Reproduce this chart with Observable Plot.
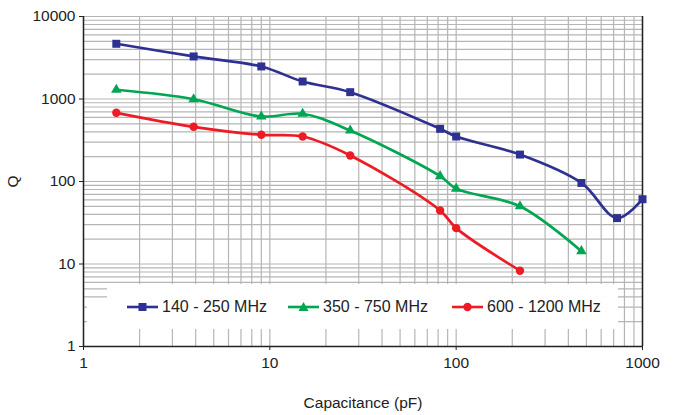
<!DOCTYPE html>
<html>
<head>
<meta charset="utf-8">
<script src="https://cdn.jsdelivr.net/npm/d3@7"></script>
<script src="https://cdn.jsdelivr.net/npm/@observablehq/plot@0.6"></script>
<style>
  html, body { margin: 0; padding: 0; background: #fff; }
  #wrap { position: relative; width: 681px; height: 415px; font-family: "Liberation Sans", Arial, Helvetica, sans-serif; }
  #legend { position: absolute; left: 107px; top: 284px; width: 511px; height: 45px; background: #fff; }
  #legend-notch { position: absolute; left: 87px; top: 301px; width: 20px; height: 28px; background: #fff; }
  .item { position: absolute; top: 0; height: 45px; display: flex; align-items: center; font-size: 16px; color: #222; }
  .item svg { margin-right: 4px; }
</style>
</head>
<body>
<div id="wrap"></div>
<script>
// Data
const capacitance = [1.5, 3.9, 9, 15, 27, 82, 100, 220, 470, 730, 1000];
const q140_250 = [4670, 3280, 2480, 1630, 1210, 435, 351, 212, 96, 36, 61];
const q350_750 = [1294, 994, 613, 662, 415, 116, 82, 50, 14.3];
const q600_1200 = [680, 460, 368, 351, 207, 44.5, 27.2, 8.3];

const seriesNames = ["140 - 250 MHz", "350 - 750 MHz", "600 - 1200 MHz"];
const seriesColors = ["#2e3192", "#00a651", "#ed1c24"];
const seriesSymbols = ["square", "triangle", "circle"];
const seriesValues = [q140_250, q350_750, q600_1200];

const xTicks = [1, 10, 100, 1000];
const yTicks = [1, 10, 100, 1000, 10000];

// grid lines at 1..9 of each decade
const xGrid = xTicks.slice(0, -1).flatMap(d => d3.range(1, 10).map(k => k * d)).concat([1000]);
const yGrid = yTicks.slice(0, -1).flatMap(d => d3.range(1, 10).map(k => k * d)).concat([10000]);

const rows = seriesValues.flatMap((vals, i) =>
  vals.map((q, j) => ({series: seriesNames[i], x: capacitance[j], q})));

const lineMarks = seriesNames.map((name, i) =>
  Plot.line(rows.filter(r => r.series === name), {
    x: "x", y: "q", stroke: seriesColors[i], strokeWidth: 2.7, curve: "catmull-rom"
  }));
const dotMarks = seriesNames.map((name, i) =>
  Plot.dot(rows.filter(r => r.series === name), {
    x: "x", y: "q", fill: seriesColors[i], symbol: seriesSymbols[i],
    r: seriesSymbols[i] === "triangle" ? 3.9 : (seriesSymbols[i] === "circle" ? 4.2 : 4.5)
  }));

const chart = Plot.plot({
  width: 681,
  height: 415,
  marginLeft: 83,
  marginRight: 39,
  marginTop: 16,
  marginBottom: 69,
  style: {fontFamily: "'Liberation Sans', Arial, Helvetica, sans-serif", fontSize: "15.5px", color: "#222", background: "#fff"},
  x: {type: "log", domain: [1, 1000]},
  y: {type: "log", domain: [1, 10000]},
  marks: [
    Plot.ruleX(xGrid, {stroke: "#b5b5b5", strokeWidth: 1.2}),
    Plot.ruleY(yGrid, {stroke: "#b5b5b5", strokeWidth: 1.2}),
    Plot.ruleX([1000], {stroke: "#222", strokeWidth: 1.5}),
    Plot.ruleX([1], {stroke: "#222", strokeWidth: 1.5}),
    Plot.ruleY([1], {stroke: "#222", strokeWidth: 1.5}),
    Plot.axisX({ticks: xTicks, tickFormat: d => String(d), tickSize: 4, tickPadding: 6,
      label: "Capacitance (pF)", labelAnchor: "center", labelOffset: 61, labelArrow: "none", fontSize: 15.5}),
    Plot.axisY({ticks: yTicks, tickFormat: d => String(d), tickSize: 4, tickPadding: 4,
      label: "Q", labelAnchor: "center", labelOffset: 77, labelArrow: "none", fontSize: 15.5}),
    ...lineMarks,
    ...dotMarks
  ]
});

const wrap = document.getElementById("wrap");
wrap.appendChild(chart);

// Legend overlay
const notch = document.createElement("div");
notch.id = "legend-notch";
wrap.appendChild(notch);
const legend = document.createElement("div");
legend.id = "legend";
const itemLefts = [20, 181, 345];
seriesNames.forEach((name, i) => {
  const item = document.createElement("div");
  item.className = "item";
  item.style.left = itemLefts[i] + "px";
  const sym = seriesSymbols[i];
  let marker;
  if (sym === "square") marker = `<rect x="11.5" y="5" width="8" height="8" fill="${seriesColors[i]}"/>`;
  else if (sym === "triangle") marker = `<path d="M15.5,4 L20.5,13 L10.5,13 Z" fill="${seriesColors[i]}"/>`;
  else marker = `<circle cx="15.5" cy="9" r="4.2" fill="${seriesColors[i]}"/>`;
  item.innerHTML = `<svg width="31" height="18"><line x1="0" x2="31" y1="9" y2="9" stroke="${seriesColors[i]}" stroke-width="2.6"/>${marker}</svg><span>${name}</span>`;
  legend.appendChild(item);
});
wrap.appendChild(legend);
</script>
</body>
</html>
